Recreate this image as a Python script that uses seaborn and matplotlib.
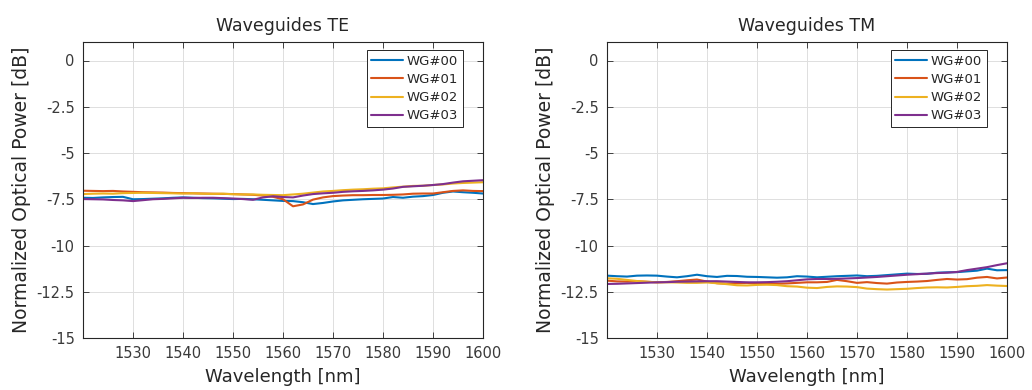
import numpy as np
import pandas as pd
import matplotlib
matplotlib.use("Agg")
import matplotlib.pyplot as plt
import seaborn as sns

wavelength = [1520, 1522, 1524, 1526, 1528, 1530, 1532, 1534, 1536, 1538,
              1540, 1542, 1544, 1546, 1548, 1550, 1552, 1554, 1556, 1558,
              1560, 1562, 1564, 1566, 1568, 1570, 1572, 1574, 1576, 1578,
              1580, 1582, 1584, 1586, 1588, 1590, 1592, 1594, 1596, 1598, 1600]

labels = ["WG#00", "WG#01", "WG#02", "WG#03"]
colors = ["#0072BD", "#D95319", "#EDB120", "#7E2F8E"]

te_wg00 = [-7.42, -7.43, -7.40, -7.38, -7.37, -7.50, -7.49, -7.47, -7.45, -7.42,
           -7.40, -7.42, -7.44, -7.45, -7.47, -7.49, -7.48, -7.50, -7.53, -7.56,
           -7.59, -7.60, -7.66, -7.76, -7.70, -7.62, -7.56, -7.53, -7.50, -7.48,
           -7.46, -7.38, -7.42, -7.36, -7.33, -7.27, -7.15, -7.08, -7.12, -7.15, -7.19]
te_wg01 = [-7.04, -7.05, -7.06, -7.05, -7.08, -7.10, -7.12, -7.13, -7.14, -7.16,
           -7.17, -7.18, -7.19, -7.20, -7.21, -7.22, -7.24, -7.26, -7.30, -7.37,
           -7.50, -7.88, -7.78, -7.52, -7.40, -7.33, -7.30, -7.28, -7.28, -7.27,
           -7.27, -7.26, -7.24, -7.20, -7.19, -7.19, -7.12, -7.05, -7.02, -7.05, -7.06]
te_wg02 = [-7.22, -7.20, -7.19, -7.20, -7.17, -7.16, -7.15, -7.16, -7.17, -7.18,
           -7.19, -7.18, -7.20, -7.21, -7.20, -7.23, -7.24, -7.24, -7.26, -7.27,
           -7.28, -7.24, -7.20, -7.14, -7.08, -7.05, -7.01, -6.98, -6.96, -6.93,
           -6.91, -6.86, -6.82, -6.78, -6.77, -6.73, -6.70, -6.65, -6.62, -6.60, -6.58]
te_wg03 = [-7.49, -7.50, -7.51, -7.54, -7.56, -7.60, -7.55, -7.50, -7.48, -7.45,
           -7.42, -7.43, -7.42, -7.42, -7.44, -7.46, -7.49, -7.53, -7.40, -7.34,
           -7.38, -7.40, -7.30, -7.22, -7.18, -7.15, -7.10, -7.07, -7.05, -7.02,
           -6.98, -6.92, -6.83, -6.80, -6.77, -6.73, -6.68, -6.60, -6.53, -6.50, -6.47]

tm_wg00 = [-11.63, -11.66, -11.68, -11.63, -11.62, -11.63, -11.68, -11.72, -11.66, -11.58,
           -11.66, -11.70, -11.64, -11.65, -11.69, -11.70, -11.72, -11.74, -11.72, -11.66,
           -11.68, -11.72, -11.69, -11.66, -11.64, -11.62, -11.66, -11.64, -11.60, -11.56,
           -11.52, -11.54, -11.53, -11.47, -11.45, -11.44, -11.40, -11.36, -11.25, -11.34, -11.33]
tm_wg01 = [-11.90, -11.94, -11.95, -11.93, -11.96, -11.99, -11.97, -11.93, -11.88, -11.84,
           -11.95, -12.04, -12.06, -12.04, -12.02, -12.06, -12.08, -12.07, -12.05, -12.02,
           -11.99, -11.99, -11.97, -11.86, -11.93, -12.02, -11.98, -12.03, -12.06, -12.00,
           -11.97, -11.95, -11.92, -11.86, -11.81, -11.84, -11.82, -11.74, -11.70, -11.78, -11.73]
tm_wg02 = [-11.77, -11.80, -11.86, -11.92, -11.96, -11.99, -11.99, -12.00, -12.02, -12.02,
           -12.00, -12.04, -12.09, -12.15, -12.16, -12.13, -12.12, -12.14, -12.20, -12.22,
           -12.28, -12.30, -12.24, -12.21, -12.22, -12.25, -12.33, -12.36, -12.38, -12.36,
           -12.34, -12.30, -12.27, -12.26, -12.27, -12.24, -12.20, -12.18, -12.14, -12.17, -12.19]
tm_wg03 = [-12.08, -12.07, -12.05, -12.03, -12.01, -11.99, -11.98, -11.96, -11.95, -11.94,
           -11.93, -11.93, -11.95, -11.97, -11.99, -11.99, -11.98, -11.96, -11.93, -11.88,
           -11.83, -11.81, -11.81, -11.80, -11.78, -11.76, -11.73, -11.70, -11.66, -11.62,
           -11.58, -11.55, -11.52, -11.49, -11.47, -11.43, -11.33, -11.25, -11.17, -11.06, -10.96]

x_ticks = [1530, 1540, 1550, 1560, 1570, 1580, 1590, 1600]
y_ticks = [0, -2.5, -5, -7.5, -10, -12.5, -15]
y_tick_labels = ["0", "-2.5", "-5", "-7.5", "-10", "-12.5", "-15"]

titles = ["Waveguides TE", "Waveguides TM"]
x_label = "Wavelength [nm]"
y_label = "Normalized Optical Power [dB]"


def make_df(series):
    rows = []
    for lab, vals in zip(labels, series):
        for w, v in zip(wavelength, vals):
            rows.append({"wl": w, "val": v, "WG": lab})
    return pd.DataFrame(rows)


df_te = make_df([te_wg00, te_wg01, te_wg02, te_wg03])
df_tm = make_df([tm_wg00, tm_wg01, tm_wg02, tm_wg03])

sns.set_style("whitegrid")
plt.rcParams["font.family"] = ["DejaVu Sans"]
txt = "#262626"
tick_txt = "#3a3a3a"

fig = plt.figure(figsize=(10.32, 3.90), dpi=100)
ax1 = fig.add_axes([83 / 1032, 52 / 390, 400 / 1032, 296 / 390])
ax2 = fig.add_axes([607 / 1032, 52 / 390, 400 / 1032, 296 / 390])

for ax, df, title in zip([ax1, ax2], [df_te, df_tm], titles):
    sns.lineplot(data=df, x="wl", y="val", hue="WG", palette=colors,
                 hue_order=labels, ax=ax, linewidth=1.5, estimator=None)
    ax.set_xlim(1520, 1600)
    ax.set_ylim(-15, 1)
    ax.set_xticks(x_ticks)
    ax.set_yticks(y_ticks)
    ax.set_yticklabels(y_tick_labels)
    ax.grid(True, color="#dedede", linewidth=0.7)
    ax.set_axisbelow(True)
    for s in ax.spines.values():
        s.set_color(txt)
        s.set_linewidth(0.8)
    ax.tick_params(direction="in", length=4, width=0.6, colors=txt,
                   labelsize=10.5, top=True, right=True, bottom=True, left=True,
                   pad=6, labelcolor=tick_txt)
    ax.set_title(title, fontsize=12.5, color=txt, pad=8)
    ax.set_xlabel(x_label, fontsize=13, color=txt, labelpad=5)
    ax.set_ylabel(y_label, fontsize=13.5, color=txt, labelpad=4)
    leg = ax.legend(loc="upper right", bbox_to_anchor=(0.95, 0.973),
                    fontsize=9.5, frameon=True, fancybox=False,
                    edgecolor=txt, framealpha=1, handlelength=2.4,
                    handletextpad=0.3, labelspacing=0.4, borderpad=0.35,
                    borderaxespad=0.0)
    leg.get_frame().set_linewidth(0.7)
    for t in leg.get_texts():
        t.set_color(txt)

fig.savefig("out.png", dpi=100)
